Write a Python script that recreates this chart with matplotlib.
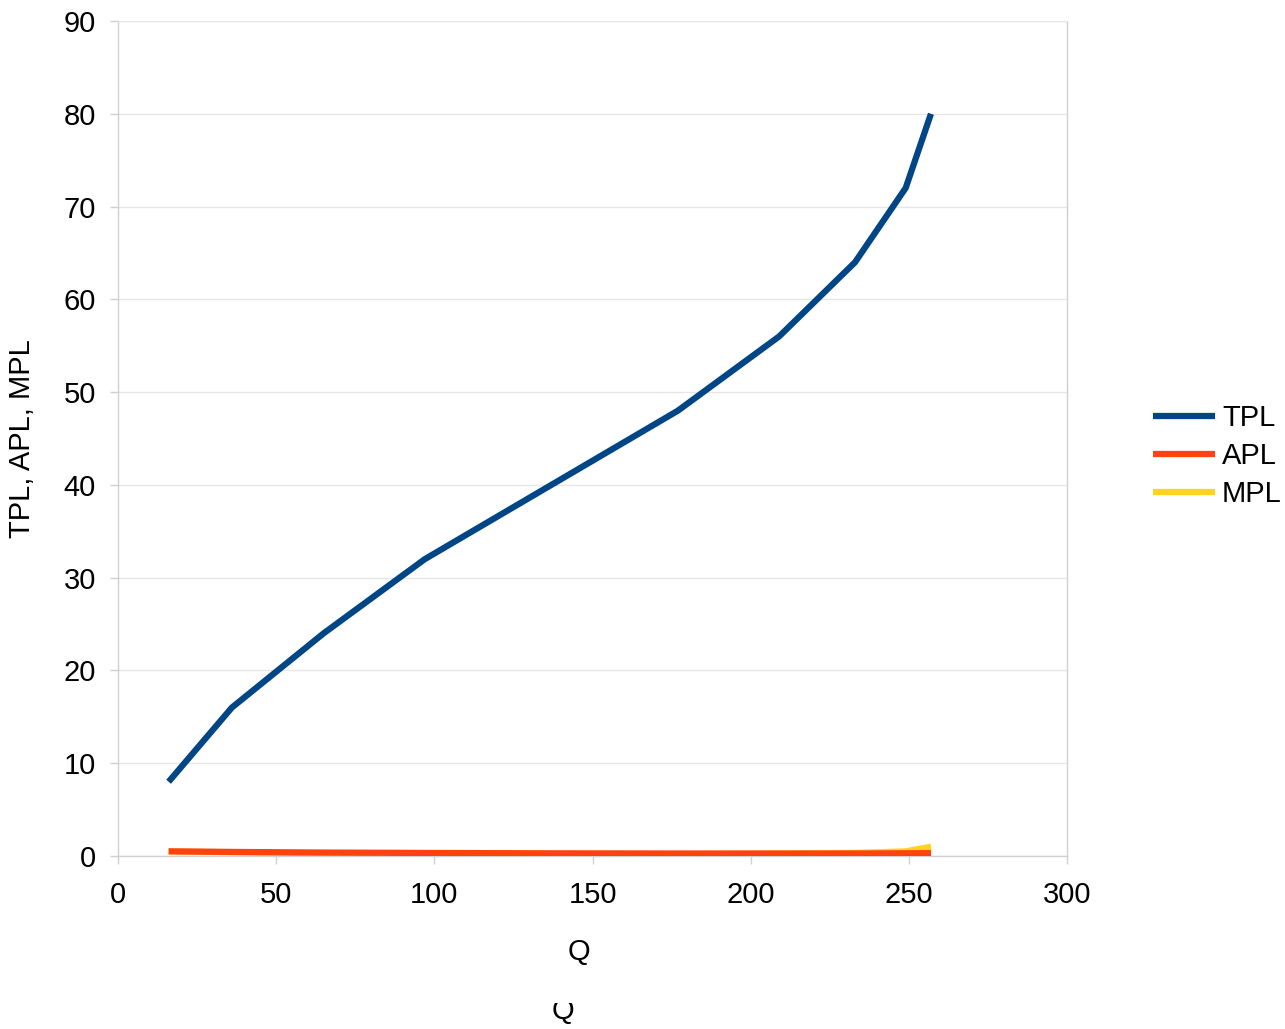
import matplotlib
matplotlib.use("Agg")
import matplotlib.pyplot as plt
from matplotlib.patches import Rectangle

plt.rcParams['font.family'] = ['Liberation Sans', 'DejaVu Sans']

Q = [16, 36, 65, 97, 137, 177, 209, 233, 249, 257]
TPL = [8, 16, 24, 32, 40, 48, 56, 64, 72, 80]
APL = [0.50, 0.44, 0.37, 0.33, 0.29, 0.27, 0.27, 0.27, 0.29, 0.31]
MPL = [0.50, 0.40, 0.28, 0.25, 0.20, 0.20, 0.25, 0.33, 0.50, 1.00]

x_ticks = [0, 50, 100, 150, 200, 250, 300]
y_ticks = [0, 10, 20, 30, 40, 50, 60, 70, 80, 90]

W, H = 1285, 1029
FS = 21
fig = plt.figure(figsize=(W / 100, H / 100), dpi=100)
ax = fig.add_axes([118 / W, 1 - 856 / H, (1067 - 118) / W, (856 - 21) / H])

lw = 4.5
ax.plot(Q, TPL, color='#004586', lw=lw, solid_capstyle='butt', solid_joinstyle='miter', label='TPL', zorder=4)
ax.plot(Q, MPL, color='#ffd320', lw=lw, solid_capstyle='butt', label='MPL', zorder=2)
ax.plot(Q, APL, color='#ff420e', lw=lw, solid_capstyle='butt', label='APL', zorder=3)

ax.set_xlim(0, 300)
ax.set_ylim(0, 90)
ax.set_xticks(x_ticks)
ax.set_yticks(y_ticks)
ax.grid(axis='y', color='#e6e6e6', lw=1)
ax.set_axisbelow(True)
for s in ['left', 'right', 'bottom']:
    ax.spines[s].set_color('#d0d0d0')
    ax.spines[s].set_linewidth(1)
ax.spines['top'].set_color('#e6e6e6')
ax.tick_params(axis='both', direction='out', length=6, width=1, color='#d0d0d0',
               labelsize=FS, labelcolor='#000000')
ax.tick_params(axis='y', pad=10)
ax.tick_params(axis='x', pad=12)

ax.set_xlabel('Q', fontsize=FS)
ax.xaxis.set_label_coords((579 - 118) / (1067 - 118), (856 - 952) / (856 - 21))
ax.xaxis.label.set_va('center')
ax.set_ylabel('TPL, APL, MPL', fontsize=FS)
ax.yaxis.set_label_coords((22 - 118) / (1067 - 118), 0.5)
ax.yaxis.label.set_va('center')

handles, labels = ax.get_legend_handles_labels()
order = [0, 2, 1]
ax.legend([handles[i] for i in order], [labels[i] for i in order],
          loc='center left', bbox_to_anchor=(1153 / W, 1 - 456 / H),
          bbox_transform=fig.transFigure, frameon=False, fontsize=FS,
          borderpad=0, borderaxespad=0,
          handlelength=2.13, handletextpad=0.24, labelspacing=0.35)

# clipped second axis title at the bottom
fig.text(563 / W, 1 - 1011 / H, 'Q', fontsize=FS, ha='center', va='center', zorder=1)
fig.add_artist(Rectangle((540 / W, 1 - 1003 / H), 50 / W, 25 / H,
                         transform=fig.transFigure, facecolor='white',
                         edgecolor='none', zorder=5))

fig.savefig('out.png', dpi=100)
